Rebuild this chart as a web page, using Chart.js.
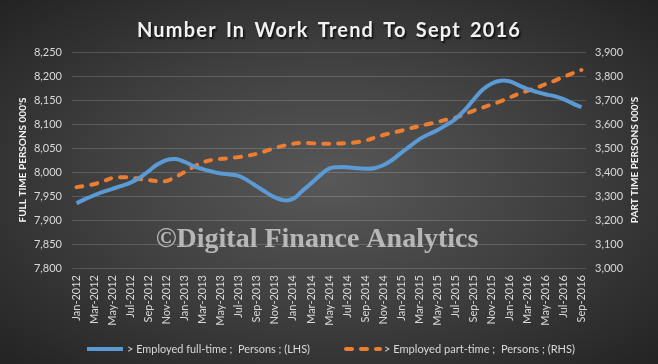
<!DOCTYPE html>
<html>
<head>
<meta charset="utf-8">
<script src="https://cdn.jsdelivr.net/npm/chart.js@4.4.1/dist/chart.umd.min.js"></script>
<style>
    body { margin: 0; }
    #wrap {
        position: relative;
        width: 658px;
        height: 364px;
        overflow: hidden;
        background: radial-gradient(ellipse at 50% 50%, #585858 0%, #424242 45%, #232323 100%);
        font-family: Lato, sans-serif;
    }
    #workChart { position: absolute; left: 0; top: 0; }
    #legend { position: absolute; left: 0; top: 336px; }
    #legend text { fill: #d9d9d9; font-family: Lato, sans-serif; font-size: 11px; white-space: pre; }
</style>
</head>
<body>
<div id="wrap">
    <canvas id="workChart" width="658" height="364"></canvas>
    <svg id="legend" width="658" height="26">
        <line x1="87" y1="13" x2="123" y2="13" stroke="#5b9bd5" stroke-width="4"/>
        <text x="127" y="17" textLength="183" lengthAdjust="spacingAndGlyphs" xml:space="preserve">&gt; Employed full-time ;  Persons ; (LHS)</text>
        <line x1="346" y1="13" x2="380" y2="13" stroke="#ed7d31" stroke-width="4" stroke-linecap="round" stroke-dasharray="6 9"/>
        <text x="384" y="17" textLength="191" lengthAdjust="spacingAndGlyphs" xml:space="preserve">&gt; Employed part-time ;  Persons ; (RHS)</text>
    </svg>
</div>
<script>
// Chart data
const months = [
    'Jan-2012', 'Feb-2012', 'Mar-2012', 'Apr-2012', 'May-2012', 'Jun-2012', 'Jul-2012', 'Aug-2012', 'Sep-2012', 'Oct-2012', 'Nov-2012', 'Dec-2012',
    'Jan-2013', 'Feb-2013', 'Mar-2013', 'Apr-2013', 'May-2013', 'Jun-2013', 'Jul-2013', 'Aug-2013', 'Sep-2013', 'Oct-2013', 'Nov-2013', 'Dec-2013',
    'Jan-2014', 'Feb-2014', 'Mar-2014', 'Apr-2014', 'May-2014', 'Jun-2014', 'Jul-2014', 'Aug-2014', 'Sep-2014', 'Oct-2014', 'Nov-2014', 'Dec-2014',
    'Jan-2015', 'Feb-2015', 'Mar-2015', 'Apr-2015', 'May-2015', 'Jun-2015', 'Jul-2015', 'Aug-2015', 'Sep-2015', 'Oct-2015', 'Nov-2015', 'Dec-2015',
    'Jan-2016', 'Feb-2016', 'Mar-2016', 'Apr-2016', 'May-2016', 'Jun-2016', 'Jul-2016', 'Aug-2016', 'Sep-2016'
];

// Employed full-time, persons 000's (LHS)
const fullTime = [
    7935, 7944, 7952, 7959, 7965, 7971, 7978, 7988, 8002, 8016, 8025, 8027,
    8021, 8012, 8006, 8001, 7997, 7995, 7992, 7982, 7970, 7958, 7947, 7941,
    7944, 7960, 7976, 7993, 8007, 8010, 8010, 8008, 8007, 8008, 8014, 8025,
    8040, 8054, 8068, 8078, 8087, 8098, 8110, 8128, 8150, 8171, 8184, 8190,
    8189, 8181, 8173, 8167, 8162, 8158, 8152, 8143, 8135
];

// Employed part-time, persons 000's (RHS)
const partTime = [
    3337, 3343, 3350, 3362, 3375, 3378, 3377, 3371, 3366, 3362, 3363, 3380,
    3400, 3422, 3440, 3450, 3455, 3458, 3462, 3468, 3476, 3488, 3500, 3510,
    3518, 3521, 3520, 3518, 3518, 3519, 3520, 3524, 3531, 3542, 3554, 3563,
    3572, 3582, 3591, 3600, 3608, 3618, 3626, 3640, 3655, 3668, 3681, 3694,
    3710, 3725, 3738, 3751, 3766, 3780, 3796, 3811, 3825
];

const chartTitle = 'Number In Work Trend To Sept 2016';
const leftTitle = "FULL TIME PERSONS 000'S";
const rightTitle = "PART TIME PERSONS 000'S";
const watermark = '\u00A9Digital Finance Analytics';

const tickColor = '#d9d9d9';

// Title (with shadow), watermark and right axis title (reads bottom to top like the left one)
const extras = {
    id: 'extras',
    afterDraw(chart) {
        const { ctx, chartArea } = chart;
        ctx.save();
        ctx.font = 'bold 20px Lato';
        ctx.letterSpacing = '1.2px';
        ctx.wordSpacing = '3px';
        ctx.fillStyle = '#f2f2f2';
        ctx.textAlign = 'center';
        ctx.textBaseline = 'alphabetic';
        ctx.shadowColor = 'rgba(0,0,0,0.75)';
        ctx.shadowOffsetX = 1.5;
        ctx.shadowOffsetY = 1.5;
        ctx.shadowBlur = 2;
        ctx.fillText(chartTitle, 329, 37);
        ctx.restore();

        ctx.save();
        ctx.font = 'bold 28px "Liberation Serif"';
        ctx.fillStyle = 'rgba(210, 210, 210, 0.8)';
        ctx.textAlign = 'center';
        ctx.textBaseline = 'alphabetic';
        ctx.fillText(watermark, 317, 247);

        ctx.translate(635, (chartArea.top + chartArea.bottom) / 2);
        ctx.rotate(-Math.PI / 2);
        ctx.font = 'bold 10px Lato';
        ctx.fillStyle = '#f2f2f2';
        ctx.textBaseline = 'middle';
        ctx.fillText(rightTitle, 0, 0);
        ctx.restore();
    }
};

function renderChart() {
    const ctx = document.getElementById('workChart').getContext('2d');

    new Chart(ctx, {
        type: 'line',
        data: {
            labels: months,
            datasets: [{
                label: '> Employed full-time ;  Persons ; (LHS)',
                data: fullTime,
                yAxisID: 'yLeft',
                borderColor: '#5b9bd5',
                borderWidth: 4,
                tension: 0.4,
                pointRadius: 0,
                fill: false
            }, {
                label: '> Employed part-time ;  Persons ; (RHS)',
                data: partTime,
                yAxisID: 'yRight',
                borderColor: '#ed7d31',
                borderWidth: 4,
                borderDash: [6, 9],
                borderCapStyle: 'round',
                tension: 0.4,
                pointRadius: 0,
                fill: false
            }]
        },
        options: {
            responsive: false,
            animation: false,
            layout: {
                padding: { left: 12, right: 0, top: 52, bottom: 36 }
            },
            scales: {
                x: {
                    offset: true,
                    grid: { display: false, drawTicks: false },
                    border: { display: false },
                    ticks: {
                        autoSkip: false,
                        maxRotation: 90,
                        minRotation: 90,
                        padding: 7,
                        color: tickColor,
                        font: { family: 'Lato', size: 11 },
                        callback: (value, index) => index % 2 === 0 ? months[index] : ''
                    },
                    afterFit: (scale) => { scale.height = 60; }
                },
                yLeft: {
                    position: 'left',
                    min: 7800,
                    max: 8250,
                    grid: { color: 'rgba(255,255,255,0.17)', drawTicks: false },
                    border: { display: false },
                    title: {
                        display: true,
                        text: leftTitle,
                        color: '#f2f2f2',
                        font: { family: 'Lato', size: 10, weight: 'bold' },
                        padding: { top: 5, bottom: 0 }
                    },
                    ticks: {
                        stepSize: 50,
                        padding: 10,
                        color: tickColor,
                        font: { family: 'Lato', size: 11 },
                        callback: (value) => value.toLocaleString('en-US')
                    },
                    afterFit: (scale) => { scale.width = 60; }
                },
                yRight: {
                    position: 'right',
                    min: 3000,
                    max: 3900,
                    grid: { drawOnChartArea: false, drawTicks: false },
                    border: { display: false },
                    ticks: {
                        stepSize: 100,
                        padding: 9,
                        color: tickColor,
                        font: { family: 'Lato', size: 11 },
                        callback: (value) => value.toLocaleString('en-US')
                    },
                    afterFit: (scale) => { scale.width = 72; }
                }
            },
            plugins: {
                legend: { display: false },
                tooltip: { enabled: false },
                title: { display: false }
            }
        },
        plugins: [extras]
    });
}

renderChart();
</script>
</body>
</html>
